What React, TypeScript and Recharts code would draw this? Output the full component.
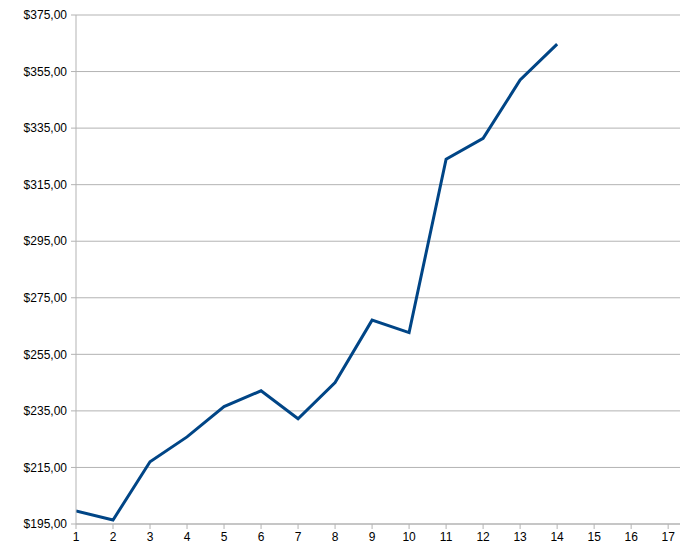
import React from 'react';
import { LineChart, Line, XAxis, YAxis, CartesianGrid } from 'recharts';

const periods = [1, 2, 3, 4, 5, 6, 7, 8, 9, 10, 11, 12, 13, 14];
const prices = [199.6, 196.4, 217.0, 225.8, 236.5, 242.1, 232.2, 245.0, 267.1, 262.7, 324.0, 331.4, 352.0, 364.7];
const xTicks = [1, 2, 3, 4, 5, 6, 7, 8, 9, 10, 11, 12, 13, 14, 15, 16, 17];
const yTicks = [195, 215, 235, 255, 275, 295, 315, 335, 355, 375];

const data = periods.map((p, i) => ({ period: p, price: prices[i] }));

const formatMoney = (v: number) => `$${v.toFixed(2).replace('.', ',')}`;

const App: React.FC = () => {
  return (
    <div style={{ position: 'absolute', left: 0, top: 0, background: '#fff', fontFamily: '"Liberation Sans", Arial, sans-serif' }}>
      <LineChart width={680} height={559} data={data} margin={{ top: 15, right: 0, left: 0, bottom: 5 }}>
        <CartesianGrid vertical={false} stroke="#b3b3b3" />
        <XAxis
          dataKey="period"
          type="number"
          domain={[1, 17.32]}
          ticks={xTicks}
          allowDataOverflow
          height={30}
          tickSize={5}
          tickMargin={3}
          stroke="#b3b3b3"
          tick={{ fill: '#000', fontSize: 12 }}
        />
        <YAxis
          domain={[195, 375]}
          ticks={yTicks}
          width={76}
          tickSize={5}
          tickMargin={4}
          stroke="#b3b3b3"
          tickFormatter={formatMoney}
          tick={{ fill: '#000', fontSize: 12 }}
        />
        <Line
          type="linear"
          dataKey="price"
          stroke="#004586"
          strokeWidth={3}
          dot={false}
          isAnimationActive={false}
        />
      </LineChart>
    </div>
  );
};

export default App;
